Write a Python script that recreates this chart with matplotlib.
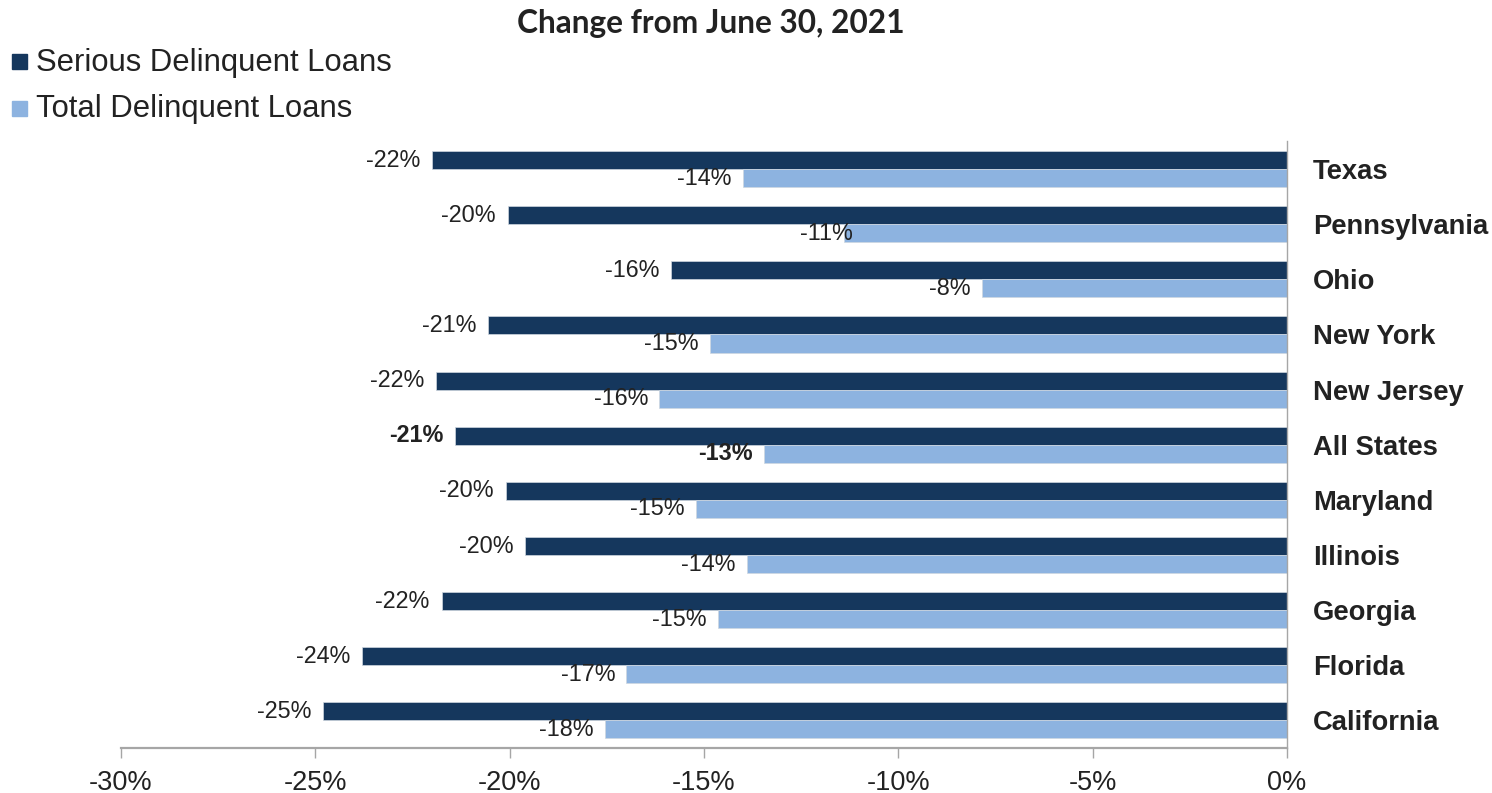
import matplotlib
matplotlib.use("Agg")
import matplotlib.pyplot as plt
from matplotlib.patches import Rectangle

# Delinquency change by state, percent change from June 30, 2021
states = ["Texas", "Pennsylvania", "Ohio", "New York", "New Jersey", "All States",
          "Maryland", "Illinois", "Georgia", "Florida", "California"]
serious = [-22.0, -20.05, -15.85, -20.55, -21.9, -21.4, -20.1, -19.6, -21.75, -23.8, -24.8]
total = [-14.0, -11.4, -7.85, -14.85, -16.15, -13.45, -15.2, -13.9, -14.65, -17.0, -17.55]
series_names = ["Serious Delinquent Loans", "Total Delinquent Loans"]
x_ticks = [-30, -25, -20, -15, -10, -5, 0]
x_tick_labels = ["-30%", "-25%", "-20%", "-15%", "-10%", "-5%", "0%"]
title = "Change from June 30, 2021"

DARK = "#15375D"
LIGHT = "#8DB3E0"
AXIS_GRAY = "#A6A6A6"
TEXT = "#222222"
SANS = "Liberation Sans"

W, H = 1492, 793
fig = plt.figure(figsize=(W / 100, H / 100), dpi=100)


def fx(px):
    return px / W


def fy(py):
    return 1 - py / H


ax = fig.add_axes([fx(121), fy(748), fx(1287) - fx(121), fy(141.5) - fy(748)])

n = len(states)
ypos = list(range(n))
bh = 0.327
ax.barh([y - bh / 2 for y in ypos], serious, height=bh, color=DARK,
        edgecolor="#cfd7e0", linewidth=0.5)
ax.barh([y + bh / 2 for y in ypos], total, height=bh, color=LIGHT,
        edgecolor="#cfd7e0", linewidth=0.5)

ax.set_xlim(-30, 0)
ax.set_ylim(n - 0.5, -0.5)

# value labels at the end of each bar
for i, (s, t) in enumerate(zip(serious, total)):
    weight = "bold" if states[i] == "All States" else "normal"
    ax.annotate(f"{round(s):d}%", xy=(s, i - bh / 2), xytext=(-8.5, 0),
                textcoords="offset points", ha="right", va="center",
                fontsize=16.8, family=SANS, color=TEXT, fontweight=weight)
    dx = 6.5 if states[i] == "Pennsylvania" else -8.0
    ax.annotate(f"{round(t):d}%", xy=(t, i + bh / 2), xytext=(dx, 0),
                textcoords="offset points", ha="right", va="center",
                fontsize=16.8, family=SANS, color=TEXT, fontweight=weight)

# category labels to the right of the zero line
ax.yaxis.tick_right()
ax.set_yticks(ypos)
ax.set_yticklabels(states, fontsize=19.7, fontweight="bold", family=SANS, color=TEXT)
ax.tick_params(axis="y", length=0, pad=18.7)

ax.set_xticks(x_ticks)
ax.set_xticklabels(x_tick_labels, fontsize=19.5, family=SANS, color=TEXT)
ax.tick_params(axis="x", direction="out", length=7.2, width=1, color=AXIS_GRAY, pad=8.5)

for side in ("top", "left"):
    ax.spines[side].set_visible(False)
ax.spines["right"].set_color(AXIS_GRAY)
ax.spines["right"].set_linewidth(1)
ax.spines["bottom"].set_color(AXIS_GRAY)
ax.spines["bottom"].set_linewidth(1.6)

# title
fig.text(fx(711), fy(33.5), title, ha="center", va="baseline", fontsize=22.8,
         fontweight="bold", family="Lato", color=TEXT)

# legend
for k, (name, col) in enumerate(zip(series_names, [DARK, LIGHT])):
    top = 54 + 47 * k
    fig.patches.append(Rectangle((fx(12), fy(top + 15)), fx(15), fy(top) - fy(top + 15),
                                 transform=fig.transFigure, color=col, figure=fig))
    fig.text(fx(36), fy(71 + 45.5 * k), name, ha="left", va="baseline",
             fontsize=22.3, family=SANS, color=TEXT)

fig.savefig("out.png", dpi=100, facecolor="white")
